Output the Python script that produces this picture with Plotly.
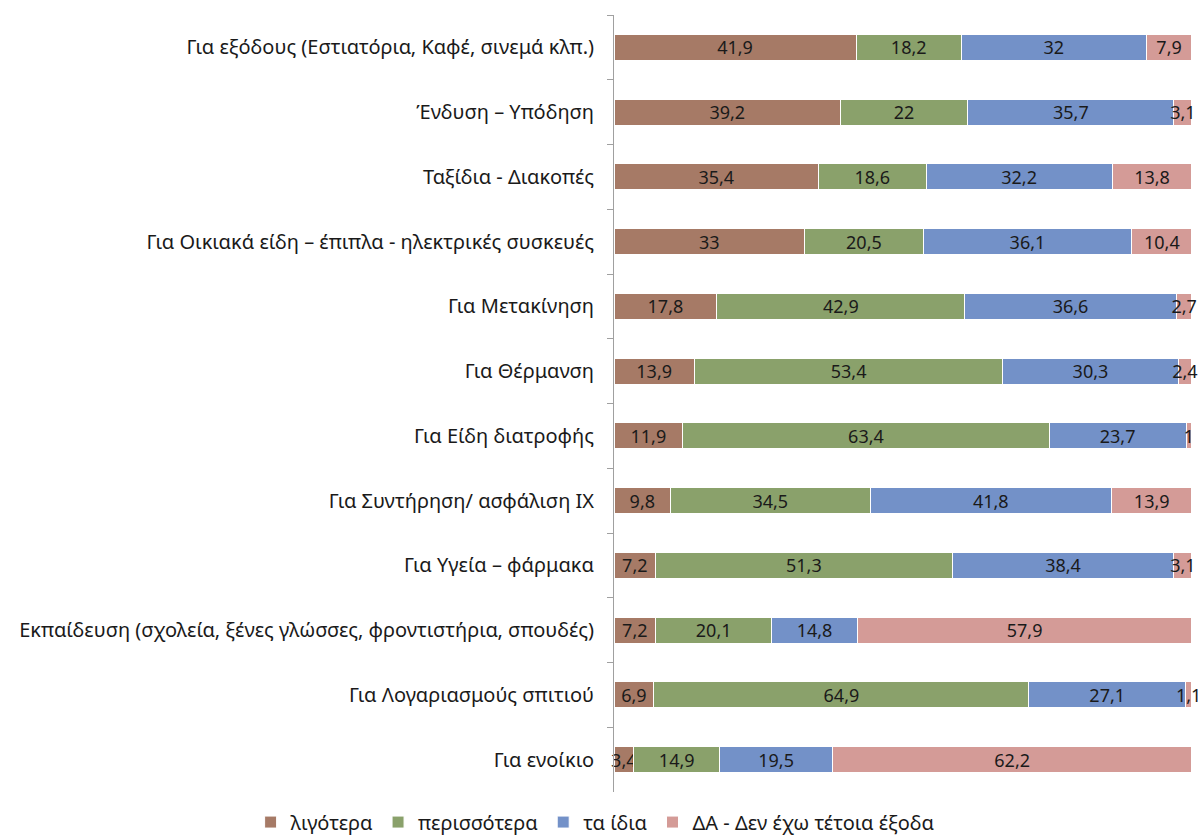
import plotly.graph_objects as go

categories = [
    "Για εξόδους (Εστιατόρια, Καφέ, σινεμά κλπ.)",
    "Ένδυση – Υπόδηση",
    "Ταξίδια - Διακοπές",
    "Για Οικιακά είδη – έπιπλα - ηλεκτρικές συσκευές",
    "Για Μετακίνηση",
    "Για Θέρμανση",
    "Για Είδη διατροφής",
    "Για Συντήρηση/ ασφάλιση ΙΧ",
    "Για Υγεία – φάρμακα",
    "Εκπαίδευση (σχολεία, ξένες γλώσσες, φροντιστήρια, σπουδές)",
    "Για Λογαριασμούς σπιτιού",
    "Για ενοίκιο",
]

ligotera = [41.9, 39.2, 35.4, 33, 17.8, 13.9, 11.9, 9.8, 7.2, 7.2, 6.9, 3.4]
perissotera = [18.2, 22, 18.6, 20.5, 42.9, 53.4, 63.4, 34.5, 51.3, 20.1, 64.9, 14.9]
ta_idia = [32, 35.7, 32.2, 36.1, 36.6, 30.3, 23.7, 41.8, 38.4, 14.8, 27.1, 19.5]
da = [7.9, 3.1, 13.8, 10.4, 2.7, 2.4, 1, 13.9, 3.1, 57.9, 1.1, 62.2]

series_names = ["λιγότερα", "περισσότερα", "τα ίδια", "ΔΑ - Δεν έχω τέτοια έξοδα"]
series_values = [ligotera, perissotera, ta_idia, da]
colors = ["#A67A66", "#8AA16B", "#7391C8", "#D49B97"]

FONT = "Noto Sans"


def fmt(v):
    return ("%g" % v).replace(".", ",")


fig = go.Figure()
for name, vals, col in zip(series_names, series_values, colors):
    fig.add_trace(go.Bar(
        y=categories,
        x=vals,
        name=name,
        orientation="h",
        marker=dict(color=col, line=dict(color="white", width=1)),
        text=[fmt(v) for v in vals],
        textposition="inside",
        insidetextanchor="middle",
        textangle=0,
        textfont=dict(color="#1a1a1a", size=18, family=FONT),
        constraintext="none",
        cliponaxis=False,
        width=0.4,
        hoverinfo="x+y+name",
    ))

fig.update_layout(
    barmode="stack",
    width=1198,
    height=837,
    margin=dict(l=614, r=6, t=15, b=45, autoexpand=False),
    plot_bgcolor="white",
    paper_bgcolor="white",
    font=dict(family=FONT, size=20, color="#1a1a1a"),
    uniformtext=dict(minsize=18, mode="show"),
    showlegend=True,
    legend=dict(
        orientation="h",
        x=-0.6287, xanchor="left",
        y=-0.0136, yanchor="top",
        font=dict(size=20, family=FONT),
        traceorder="normal",
        itemwidth=30,
    ),
)
fig.update_xaxes(range=[0, 100.02], visible=False, showgrid=False, zeroline=False)
fig.update_yaxes(
    autorange="reversed",
    automargin=False,
    showline=True,
    linecolor="#A0A0A0",
    linewidth=1,
    ticks="outside",
    tickson="boundaries",
    ticklen=6,
    tickcolor="#A0A0A0",
    ticklabelstandoff=15,
    showgrid=False,
)

fig.write_html(
    "out.html",
    config={"displayModeBar": False},
    post_script="document.body.style.margin='0';document.body.style.overflow='hidden';",
)
